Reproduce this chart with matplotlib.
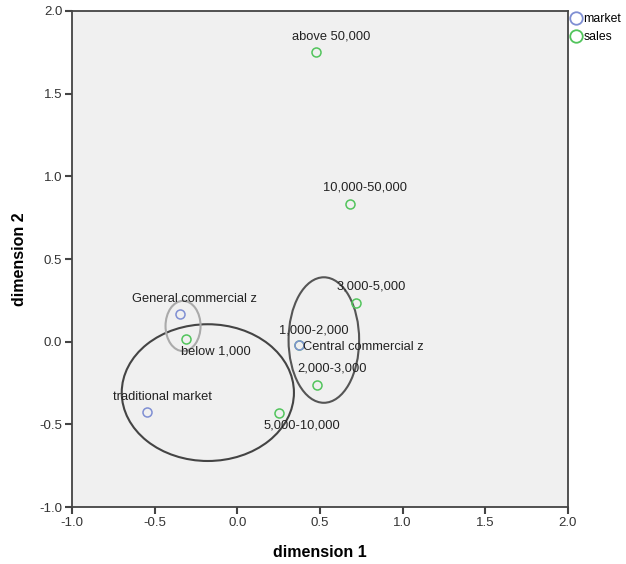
import matplotlib
matplotlib.use("Agg")
import matplotlib.pyplot as plt
from matplotlib.patches import Ellipse
from matplotlib.lines import Line2D

plt.rcParams["font.family"] = ["Liberation Sans", "DejaVu Sans"]

# market points (dimension 1, dimension 2)
market_labels = ["General commercial z", "Central commercial z", "traditional market"]
market_x = [-0.349, 0.375, -0.546]
market_y = [0.167, -0.022, -0.424]

# sales points
sales_labels = ["above 50,000", "10,000-50,000", "3,000-5,000", "1,000-2,000",
                "2,000-3,000", "5,000-10,000", "below 1,000"]
sales_x = [0.476, 0.682, 0.716, 0.372, 0.484, 0.254, -0.312]
sales_y = [1.752, 0.832, 0.235, -0.022, -0.264, -0.434, 0.018]

# label offsets in points (dx, dy, ha)
market_offsets = [(11, 11, "center"), (3, -1, "left"), (11, 11, "center")]
sales_offsets = [(11, 11, "center"), (11, 12, "center"), (11, 12, "center"),
                 (11, 11, "center"), (11, 12, "center"), (16, -9, "center"),
                 (22, -9, "center")]

# ellipses: centre x, centre y, width, height, colour
ell_cx = [-0.178, -0.328, 0.524]
ell_cy = [-0.308, 0.095, 0.010]
ell_w = [1.042, 0.212, 0.427]
ell_h = [0.827, 0.304, 0.759]
ell_col = ["#444444", "#aaaaaa", "#555555"]

BLUE = "#7f8fd3"
GREEN = "#52c45c"

fig = plt.figure(figsize=(6.26, 5.64), dpi=100)
ax = fig.add_axes([0.115, 0.101, 0.792, 0.8795])
ax.set_facecolor("#f0f0f0")

for cx, cy, w, h, c in zip(ell_cx, ell_cy, ell_w, ell_h, ell_col):
    ax.add_patch(Ellipse((cx, cy), w, h, fill=False, edgecolor=c, lw=1.5, zorder=2))

ax.plot(sales_x, sales_y, "o", mfc="none", mec=GREEN, ms=6.5, mew=1.1, zorder=3)
ax.plot(market_x, market_y, "o", mfc="none", mec=BLUE, ms=6.5, mew=1.1, zorder=3)

for lab, x, y, (dx, dy, ha) in zip(market_labels + sales_labels,
                                   market_x + sales_x, market_y + sales_y,
                                   market_offsets + sales_offsets):
    ax.annotate(lab, (x, y), xytext=(dx, dy), textcoords="offset points",
                ha=ha, va="center", fontsize=9.3, color="#222222", zorder=4)

ax.set_xlim(-1.0, 2.0)
ax.set_ylim(-1.0, 2.0)
ax.set_xticks([-1.0, -0.5, 0.0, 0.5, 1.0, 1.5, 2.0])
ax.set_yticks([-1.0, -0.5, 0.0, 0.5, 1.0, 1.5, 2.0])
ax.xaxis.set_major_formatter(matplotlib.ticker.FormatStrFormatter("%.1f"))
ax.yaxis.set_major_formatter(matplotlib.ticker.FormatStrFormatter("%.1f"))
ax.tick_params(direction="out", length=5, width=1.5, color="#444444",
               labelsize=9.5, labelcolor="#333333", pad=2)
for s in ax.spines.values():
    s.set_color("#444444")
    s.set_linewidth(1.3)

ax.set_xlabel("dimension 1", fontsize=11.5, fontweight="bold", labelpad=12)
ax.set_ylabel("dimension 2", fontsize=11.5, fontweight="bold", labelpad=9)

handles = [Line2D([], [], ls="none", marker="o", mfc="none", mec=BLUE, ms=9, mew=1.3),
           Line2D([], [], ls="none", marker="o", mfc="none", mec=GREEN, ms=9, mew=1.3)]
fig.legend(handles, ["market", "sales"], loc="upper left",
           bbox_to_anchor=(0.899, 0.992), frameon=False, fontsize=8.8,
           handlelength=0.8, handletextpad=0.2, labelspacing=0.5, borderpad=0.2)

fig.savefig("out.png", dpi=100, facecolor="white")
